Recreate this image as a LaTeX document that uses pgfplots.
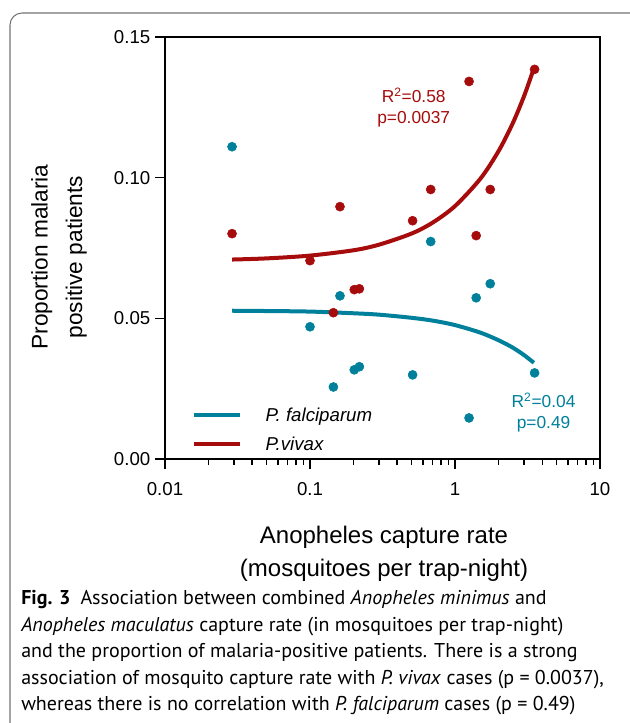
\documentclass[border=0pt]{standalone}
\usepackage{fontspec}
\setmainfont{Liberation Sans}
\newfontfamily\capfont{PT Sans}
\usepackage{pgfplots}
\pgfplotsset{compat=1.18}
\definecolor{vred}{RGB}{166,12,12}
\definecolor{fteal}{RGB}{0,128,155}
\begin{document}
\begin{tikzpicture}
\begin{scope}[x=0.75pt,y=-0.75pt]
\useasboundingbox (0,0) rectangle (630,723);
\draw[color=black!55, line width=0.8pt, rounded corners=9pt] (10,760) -- (10,13) -- (645,13) -- (645,760);
% axis titles
\node[rotate=90, align=center, font=\fontsize{17}{26}\selectfont] at (59,257) {Proportion malaria\\positive patients};
\node[font=\fontsize{18}{18}\selectfont] at (384,537) {Anopheles capture rate};
\node[font=\fontsize{18}{18}\selectfont] at (384,570) {(mosquitoes per trap-night)};
% caption
\begin{scope}[every node/.style={anchor=base west, inner sep=0pt, font=\capfont\fontsize{15}{20}\selectfont}]
\node at (21,604) {\textbf{Fig. 3}\enspace Association between combined \textit{Anopheles minimus} and};
\node at (21,631) {\textit{Anopheles maculatus} capture rate (in mosquitoes per trap-night)};
\node at (21,657.5) {and the proportion of malaria-positive patients. There is a strong};
\node at (21,684) {association of mosquito capture rate with \textit{P. vivax} cases (p = 0.0037),};
\node at (21,710.5) {whereas there is no correlation with \textit{P. falciparum} cases (p = 0.49)};
\end{scope}
\end{scope}
\begin{axis}[
 at={(123.75pt,-344.25pt)}, anchor=south west,
 scale only axis, width=326.25pt, height=316.5pt,
 xmode=log, xmin=0.01, xmax=10, ymin=0, ymax=0.15,
 xtick={0.01,0.1,1,10}, xticklabels={0.01,0.1,1,10},
 minor xtick={0.02,0.03,0.04,0.05,0.06,0.07,0.08,0.09,0.2,0.3,0.4,0.5,0.6,0.7,0.8,0.9,2,3,4,5,6,7,8,9},
 ytick={0,0.05,0.1,0.15}, yticklabels={0.00,0.05,0.10,0.15},
 tick align=outside, xtick pos=left, ytick pos=left,
 major tick length=7.5pt, minor tick length=4.5pt,
 axis line style={line width=1.4pt},
 every tick/.style={black, line width=1.2pt},
 /pgf/number format/assume math mode=true,
 ticklabel style={font=\fontsize{14}{16}\selectfont},
 xticklabel style={yshift=-6.5pt},
 clip=false,
 legend style={at={(0.053,0.135)}, anchor=north west, draw=none, fill=none,
   font=\fontsize{14}{16}\selectfont, row sep=6pt,
   nodes={inner xsep=18pt}},
 legend cell align=left,
 legend image code/.code={\draw[line width=3pt] (-10pt,0pt) -- (24pt,0pt);},
]
\addplot[fteal, line width=3pt, smooth] coordinates {
(0.029,0.0527) (0.05,0.0526) (0.1,0.0524) (0.2,0.0518) (0.3,0.0513) (0.5,0.0502) (0.7,0.0492) (1.0,0.0476) (1.5,0.0449) (2.0,0.0422) (2.5,0.0396) (3.0,0.0369) (3.5,0.0342)};
\addlegendentry{\textit{P. falciparum}}
\addplot[vred, line width=3pt, smooth] coordinates {
(0.029,0.0709) (0.05,0.0713) (0.1,0.0723) (0.2,0.0742) (0.3,0.0762) (0.5,0.0801) (0.7,0.0840) (1.0,0.0899) (1.5,0.0997) (2.0,0.1095) (2.5,0.1193) (3.0,0.1291) (3.5,0.1389)};
\addlegendentry{\textit{P.vivax}}
\addplot[only marks, mark=*, mark size=3.4pt, fteal, forget plot] coordinates {
(0.029,0.111) (0.1,0.047) (0.145,0.0256) (0.161,0.058) (0.202,0.0317) (0.219,0.0328) (0.51,0.0299) (0.68,0.0773) (1.25,0.0146) (1.40,0.0573) (1.75,0.0623) (3.54,0.0306)};
\addplot[only marks, mark=*, mark size=3.4pt, vred, forget plot] coordinates {
(0.029,0.0801) (0.1,0.0705) (0.145,0.052) (0.161,0.0897) (0.202,0.0602) (0.219,0.0605) (0.51,0.0847) (0.68,0.0958) (1.25,0.1342) (1.40,0.0794) (1.75,0.0958) (3.54,0.1385)};
\node[vred, align=center, font=\fontsize{13}{15.75}\selectfont] at (axis cs:0.519,0.1249) {R\textsuperscript{2}=0.58\\p=0.0037};
\node[fteal, align=center, font=\fontsize{13}{15.75}\selectfont] at (axis cs:4.08,0.01655) {R\textsuperscript{2}=0.04\\p=0.49};
\end{axis}
\end{tikzpicture}
\end{document}
